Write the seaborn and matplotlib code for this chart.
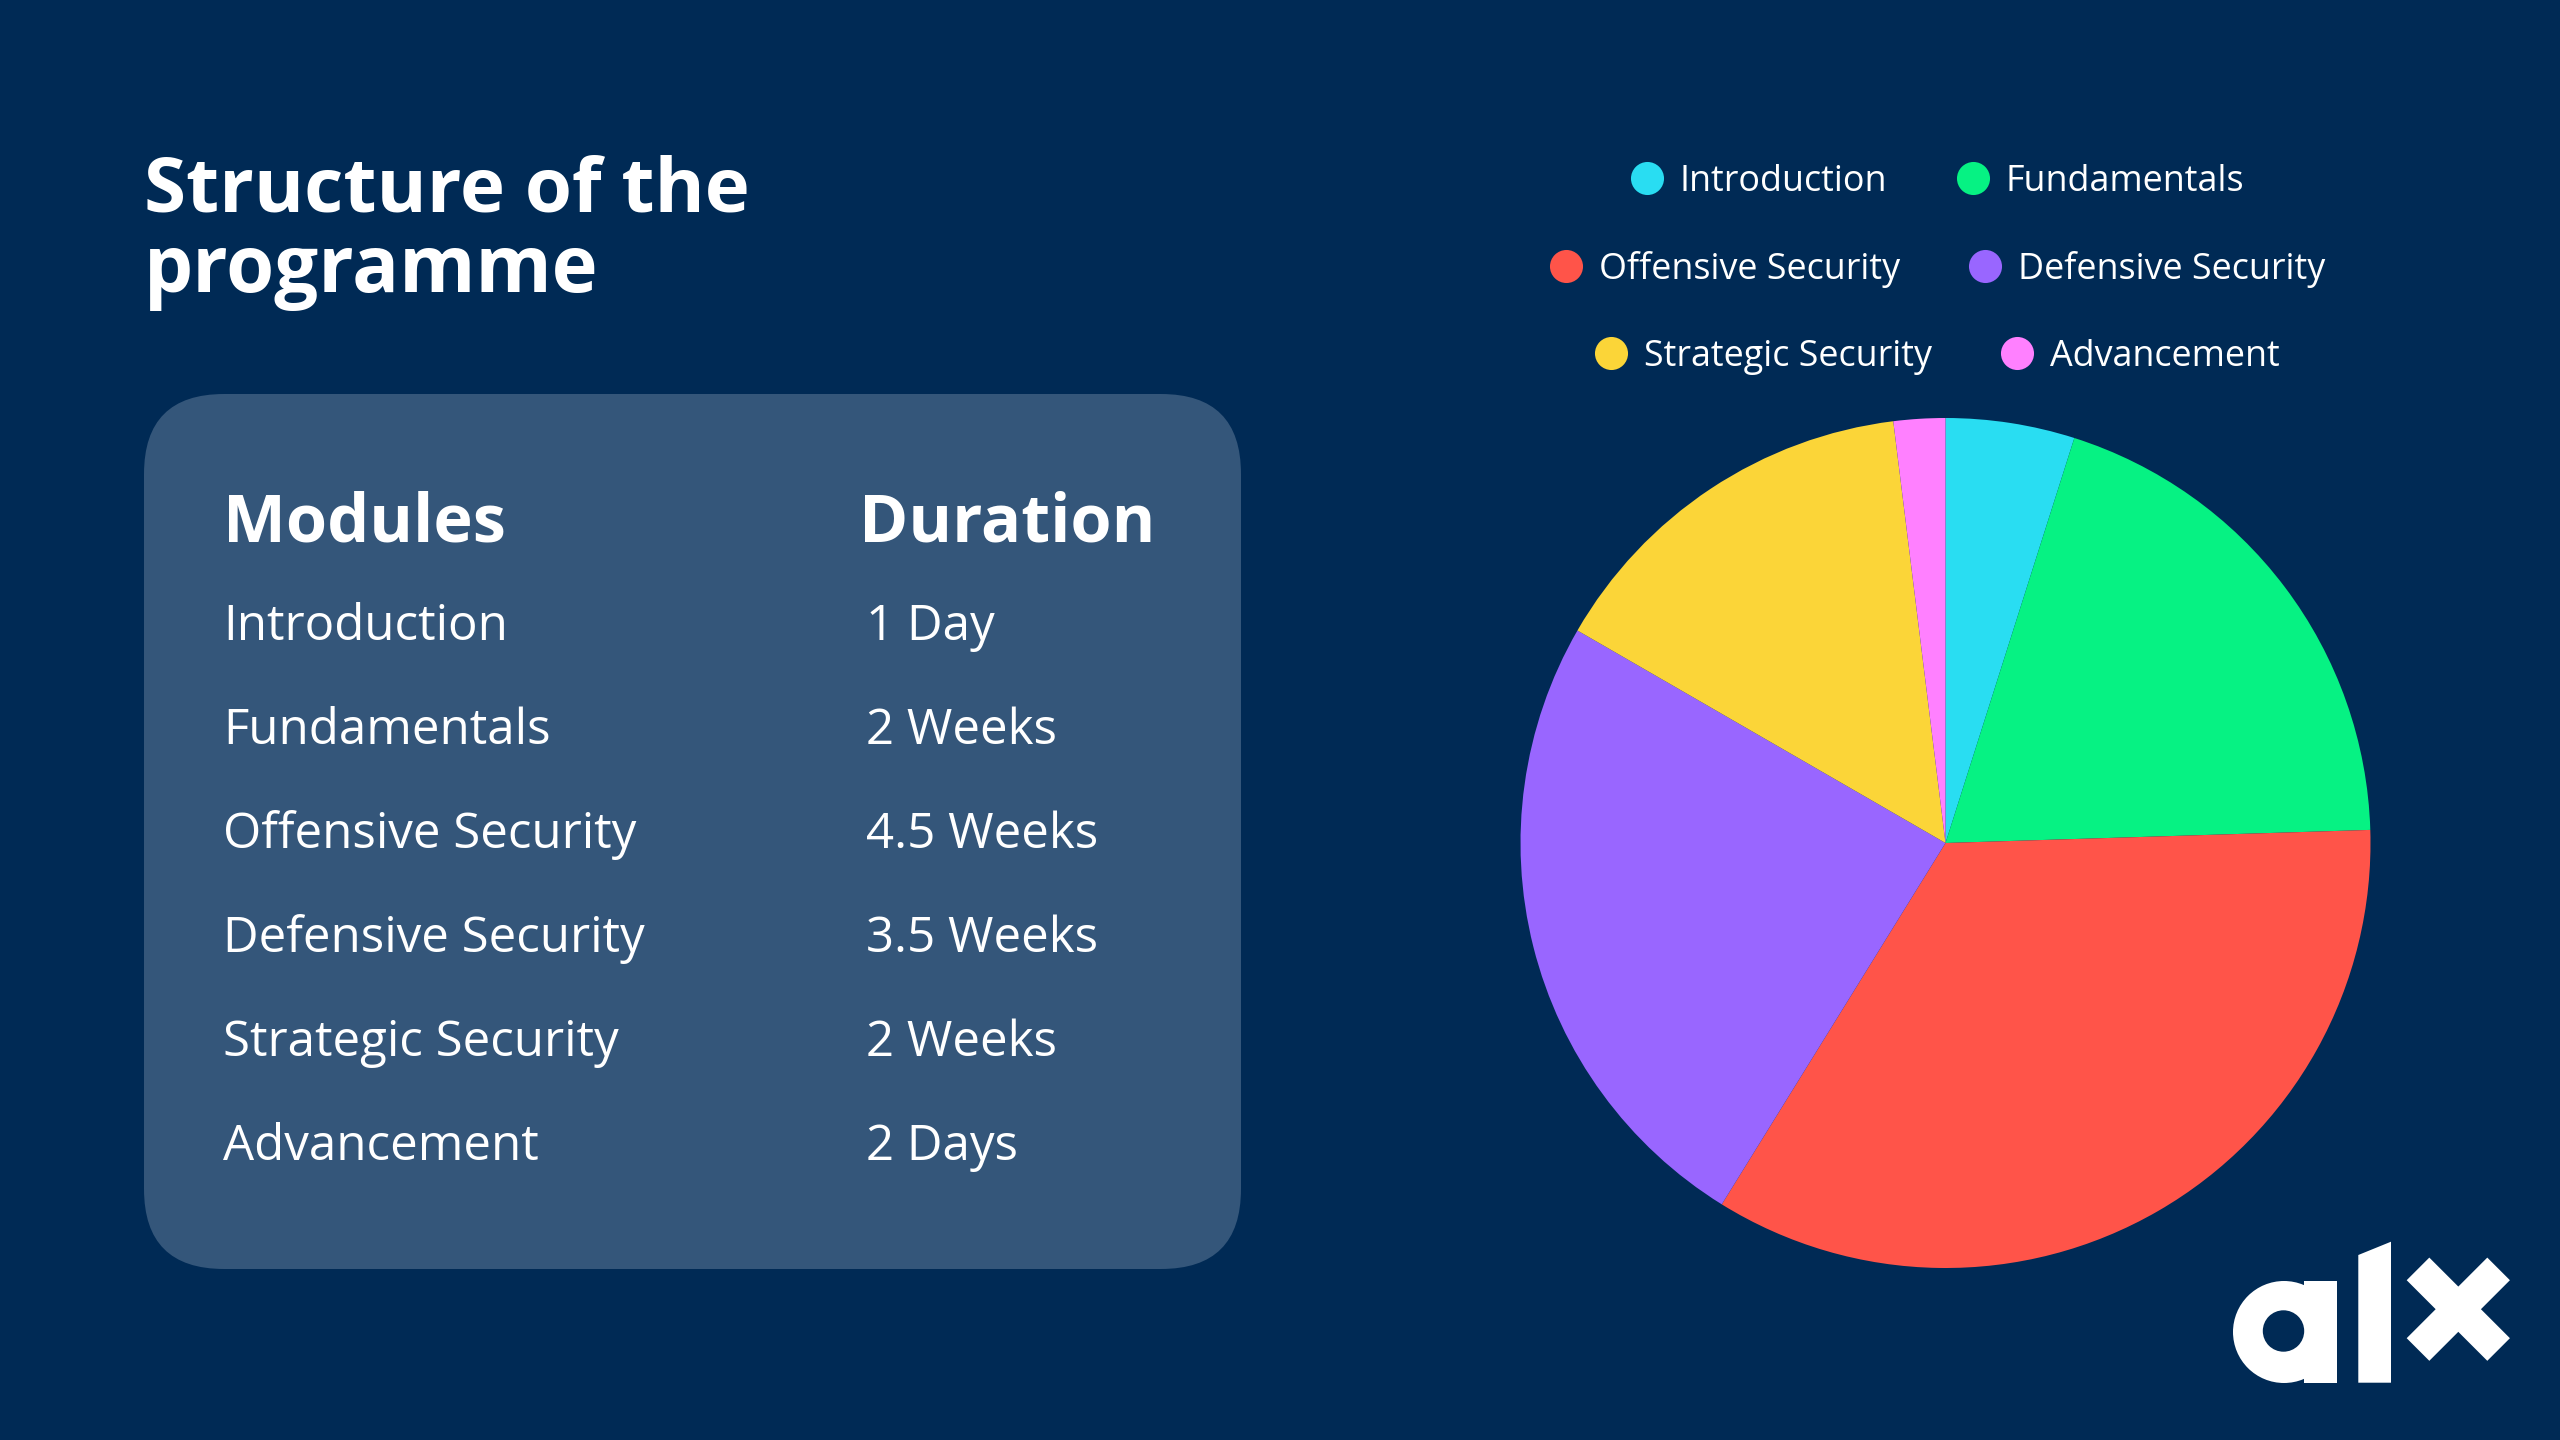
import numpy as np
import matplotlib
matplotlib.use("Agg")
import matplotlib.pyplot as plt
import seaborn as sns
from matplotlib.patches import FancyBboxPatch, Circle, Rectangle, Polygon
from matplotlib.lines import Line2D

# data
modules = ["Introduction", "Fundamentals", "Offensive Security",
           "Defensive Security", "Strategic Security", "Advancement"]
durations = ["1 Day", "2 Weeks", "4.5 Weeks", "3.5 Weeks", "2 Weeks", "2 Days"]
shares = [5, 20, 35, 25, 15, 2]
slice_colors = ["#29DDF2", "#06F283", "#FF5449", "#9966FF", "#FBD538", "#FF80FF"]
legend_rows = [[0, 1], [2, 3], [4, 5]]

BG = "#002A55"
PANEL = "#34567A"

sns.set_theme(style="white", rc={"figure.facecolor": BG, "axes.facecolor": BG,
                                 "savefig.facecolor": BG, "text.color": "white"})
plt.rcParams["font.family"] = ["Open Sans", "DejaVu Sans"]
palette = sns.color_palette(slice_colors)

fig = plt.figure(figsize=(25.6, 14.4), dpi=100)

# background layer, pixel coords with y going down
bg = fig.add_axes([0, 0, 1, 1])
bg.set_xlim(0, 2560)
bg.set_ylim(1440, 0)
bg.axis("off")

bg.text(144, 212, "Structure of the", fontsize=55, weight="bold", color="white", va="baseline")
bg.text(144, 292, "programme", fontsize=56, weight="bold", color="white", va="baseline")

# table panel
bg.add_patch(FancyBboxPatch((224, 474), 937, 715, boxstyle="round,pad=80",
                            fc=PANEL, ec="none"))
bg.text(223, 541, "Modules", fontsize=48, weight="bold", color="white", va="baseline")
bg.text(859, 541, "Duration", fontsize=48, weight="bold", color="white", va="baseline")
for i, (m, d) in enumerate(zip(modules, durations)):
    y = 640 + i * 104
    bg.text(223, y, m, fontsize=35.5, color="white", va="baseline")
    bg.text(866, y, d, fontsize=35.5, color="white", va="baseline")

# alx logo
bg.add_patch(Circle((2284, 1332), 51, fc="white", ec="none"))
bg.add_patch(Rectangle((2304, 1281), 33, 102, fc="white", ec="none"))
bg.add_patch(Circle((2283.5, 1331), 20.7, fc=BG, ec="none"))
bg.add_patch(Polygon([(2358.3, 1382.7), (2391, 1382.7), (2391, 1241.7), (2358.3, 1255)],
                     fc="white", ec="none"))
c = np.array([2458.3, 1309.2])
d1 = np.array([1, 1]) / np.sqrt(2)
d2 = np.array([1, -1]) / np.sqrt(2)
for a, b in [(d1, d2), (d2, d1)]:
    pts = [c + 57 * a + 16 * b, c + 57 * a - 16 * b, c - 57 * a - 16 * b, c - 57 * a + 16 * b]
    bg.add_patch(Polygon(pts, fc="white", ec="none"))

# pie
pax = fig.add_axes([1520.5 / 2560, (1440 - 1268) / 1440, 850 / 2560, 850 / 1440])
pax.pie(shares, colors=palette, startangle=90, counterclock=False, radius=1,
        wedgeprops=dict(linewidth=0))
pax.set_xlim(-1, 1)
pax.set_ylim(-1, 1)
pax.set_aspect("equal")
pax.axis("off")

# legend, each row centred on its own
row_y = [182, 269, 357]
for r, row in enumerate(legend_rows):
    handles = [Line2D([], [], ls="none", marker="o", ms=23.8, mfc=palette[i], mec="none")
               for i in row]
    fig.legend(handles, [modules[i] for i in row], loc="center",
               bbox_to_anchor=(1937 / 2560, 1 - row_y[r] / 1440), ncol=2, frameon=False,
               fontsize=25.8, labelcolor="white", handlelength=0.95, handletextpad=0.45,
               columnspacing=1.9, borderpad=0, borderaxespad=0)

fig.savefig("out.png", dpi=100, facecolor=BG)
